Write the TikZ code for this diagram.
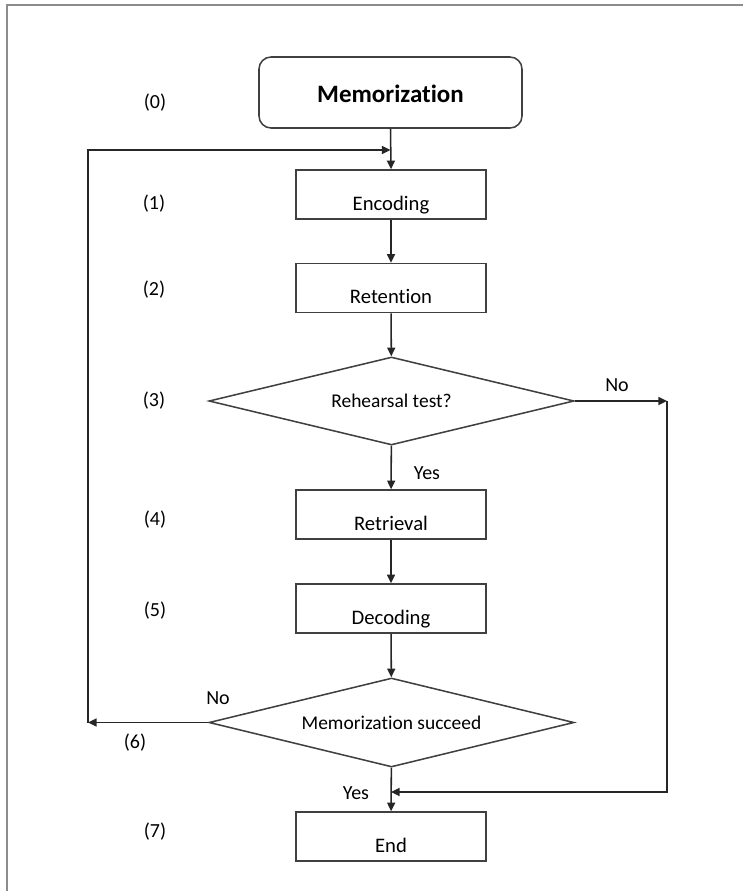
\documentclass[tikz,border=0pt]{standalone}
\usepackage{fontspec}
\setmainfont{Carlito}[Ligatures=NoCommon]
\usetikzlibrary{shapes.geometric,arrows.meta}

\begin{document}
\begin{tikzpicture}[x=0.75pt,y=-0.75pt,
  line/.style={draw=black!85,line width=1.15pt},
  arrow/.style={line,-{Triangle[length=6.5pt,width=6pt]}},
  stepbox/.style={draw=black!75,line width=1.15pt,rectangle,
    minimum width=142.5pt,inner xsep=0pt,inner ysep=0pt,
    text height=30pt,text depth=6.75pt,font=\fontsize{15.5}{18}\selectfont},
  startbox/.style={draw=black!75,line width=1.15pt,rectangle,rounded corners=9pt,
    minimum width=197.25pt,inner xsep=0pt,inner ysep=0pt,
    text height=34.5pt,text depth=18.75pt,font=\bfseries\fontsize{18.75}{22}\selectfont},
  decision/.style={draw=black!75,line width=1.15pt,diamond,inner sep=0pt,
    shape aspect=4.15,minimum width=273.75pt,font=\fontsize{14.6}{17}\selectfont},
  tag/.style={font=\fontsize{15}{18}\selectfont,inner sep=0pt},
  answer/.style={font=\fontsize{15}{18}\selectfont,inner sep=0pt}]

  \useasboundingbox (0,0) rectangle (743,891);
  % frame edges
  \draw[gray!90,line width=1.7pt] (743,5) -- (7,5) -- (7,891);

  % main column
  \node[startbox] (mem) at (390.5,92.5) {Memorization};
  \node[stepbox] (enc) at (391,194.5) {Encoding};
  \node[stepbox] (ret) at (391,288) {Retention};
  \node[decision,minimum height=66pt] (d1) at (391.5,401) {Rehearsal test?};
  \node[stepbox] (rtv) at (391,514.5) {Retrieval};
  \node[stepbox] (dec) at (391,608.5) {Decoding};
  \node[decision,minimum height=66.75pt] (d2) at (391.5,722.5) {Memorization succeed};
  \node[stepbox] (fin) at (391,836.5) {End};

  % step numbers
  \node[tag] (t0) at (155,103) {(0)};
  \node[tag] (t1) at (154,204) {(1)};
  \node[tag] (t2) at (154,290) {(2)};
  \node[tag] (t3) at (154,401) {(3)};
  \node[tag] (t4) at (155,520) {(4)};
  \node[tag] (t5) at (155,611) {(5)};
  \node[tag] (t6) at (135,743) {(6)};
  \node[tag] (t7) at (155,832) {(7)};

  % branch labels
  \node[answer] (no1) at (617,385) {No};
  \node[answer] (yes1) at (427,473) {Yes};
  \node[answer] (no2) at (218,698) {No};
  \node[answer] (yes2) at (356,793) {Yes};

  % routing points
  \coordinate (jt) at (390.5,150);
  \coordinate (lt) at (88,150);
  \coordinate (lb) at (88,722.5);
  \coordinate (nr) at (667,401);
  \coordinate (nb) at (667,792);
  \coordinate (jb) at (391,792);

  % straight flow
  \draw[arrow] (mem.south) -- (enc.north);
  \draw[arrow] (enc) -- (ret);
  \draw[arrow] (ret) -- (d1);
  \draw[arrow] (d1) -- (rtv);
  \draw[arrow] (rtv) -- (dec);
  \draw[arrow] (dec) -- (d2);
  \draw[arrow] (d2) -- (fin);

  % failed memorization loops back to encoding
  \draw[arrow] (d2.west) -- (lb);
  \draw[arrow] (lb) -- (lt) -- (jt);

  % no rehearsal test goes straight to the end
  \draw[arrow] (d1.east) -- (nr);
  \draw[arrow] (nr) -- (nb) -- (jb);
\end{tikzpicture}
\end{document}
